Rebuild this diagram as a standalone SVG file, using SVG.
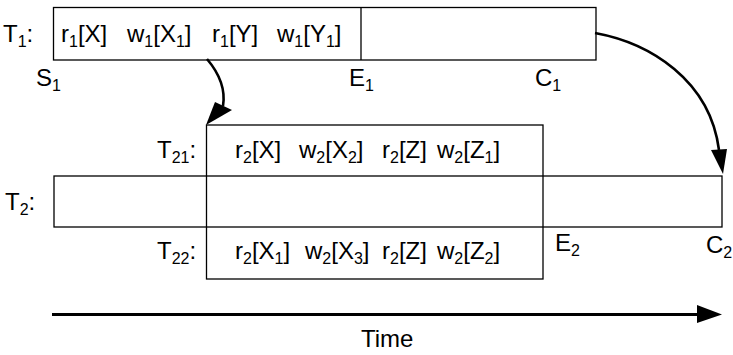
<svg xmlns="http://www.w3.org/2000/svg" width="733" height="355" viewBox="0 0 733 355">
  <style>
    .box { fill: none; stroke: #000; stroke-width: 1.3; }
    .lbl { font-family: "Liberation Sans", Arial, sans-serif; font-size: 24px; fill: #000; }
    .sub { font-size: 16px; }
    .time { font-family: "Liberation Sans", Arial, sans-serif; font-size: 24px; fill: #000; }
    .conn { fill: none; stroke: #000; stroke-width: 2.6; }
    .head { fill: #000; stroke: none; }
  </style>

  <!-- transaction T1 -->
  <g id="T1">
    <rect class="box" x="53.5" y="7.5" width="542.5" height="52.5"/>
    <line class="box" x1="361" y1="7.5" x2="361" y2="60"/>
    <text class="lbl" x="3" y="42">T<tspan class="sub" dy="5">1</tspan><tspan dy="-5">:</tspan></text>
    <text class="lbl" x="61" y="42">r<tspan class="sub" dy="5">1</tspan><tspan dy="-5">[X]</tspan></text>
    <text class="lbl" x="127" y="42">w<tspan class="sub" dy="5">1</tspan><tspan dy="-5">[X</tspan><tspan class="sub" dy="5">1</tspan><tspan dy="-5">]</tspan></text>
    <text class="lbl" x="212" y="42">r<tspan class="sub" dy="5">1</tspan><tspan dy="-5">[Y]</tspan></text>
    <text class="lbl" x="277" y="42">w<tspan class="sub" dy="5">1</tspan><tspan dy="-5">[Y</tspan><tspan class="sub" dy="5">1</tspan><tspan dy="-5">]</tspan></text>
    <text class="lbl" x="36" y="86">S<tspan class="sub" dy="5">1</tspan></text>
    <text class="lbl" x="349" y="86">E<tspan class="sub" dy="5">1</tspan></text>
    <text class="lbl" x="535" y="86">C<tspan class="sub" dy="5">1</tspan></text>
  </g>

  <!-- transaction T2 -->
  <g id="T2">
    <rect class="box" x="54" y="176" width="668" height="51"/>
    <text class="lbl" x="5" y="210">T<tspan class="sub" dy="5">2</tspan><tspan dy="-5">:</tspan></text>
    <text class="lbl" x="555" y="251">E<tspan class="sub" dy="5">2</tspan></text>
    <text class="lbl" x="706" y="253">C<tspan class="sub" dy="5">2</tspan></text>
  </g>

  <!-- subtransactions T21 / T22 -->
  <g id="T21-T22">
    <rect class="box" x="206.5" y="125" width="336.5" height="154"/>
    <text class="lbl" x="157" y="158">T<tspan class="sub" dy="5">21</tspan><tspan dy="-5">:</tspan></text>
    <text class="lbl" x="235" y="158">r<tspan class="sub" dy="5">2</tspan><tspan dy="-5">[X]</tspan></text>
    <text class="lbl" x="299" y="158">w<tspan class="sub" dy="5">2</tspan><tspan dy="-5">[X</tspan><tspan class="sub" dy="5">2</tspan><tspan dy="-5">]</tspan></text>
    <text class="lbl" x="382" y="158">r<tspan class="sub" dy="5">2</tspan><tspan dy="-5">[Z]</tspan></text>
    <text class="lbl" x="437" y="158">w<tspan class="sub" dy="5">2</tspan><tspan dy="-5">[Z</tspan><tspan class="sub" dy="5">1</tspan><tspan dy="-5">]</tspan></text>
    <text class="lbl" x="157" y="259">T<tspan class="sub" dy="5">22</tspan><tspan dy="-5">:</tspan></text>
    <text class="lbl" x="235" y="259">r<tspan class="sub" dy="5">2</tspan><tspan dy="-5">[X</tspan><tspan class="sub" dy="5">1</tspan><tspan dy="-5">]</tspan></text>
    <text class="lbl" x="305" y="259">w<tspan class="sub" dy="5">2</tspan><tspan dy="-5">[X</tspan><tspan class="sub" dy="5">3</tspan><tspan dy="-5">]</tspan></text>
    <text class="lbl" x="382" y="259">r<tspan class="sub" dy="5">2</tspan><tspan dy="-5">[Z]</tspan></text>
    <text class="lbl" x="437" y="259">w<tspan class="sub" dy="5">2</tspan><tspan dy="-5">[Z</tspan><tspan class="sub" dy="5">2</tspan><tspan dy="-5">]</tspan></text>
  </g>

  <!-- connectors -->
  <g id="connectors">
    <path class="conn" d="M207,59 C218,72 226,88 223,106"/>
    <polygon class="head" points="215,102 232,110 206,125"/>
    <path class="conn" d="M595,33 C650,43 710,80 719,150"/>
    <polygon class="head" points="711,150 727,149 723,174"/>
  </g>

  <!-- time axis -->
  <g id="time-axis">
    <line x1="52" y1="314.5" x2="698" y2="314.5" stroke="#000" stroke-width="3"/>
    <polygon class="head" points="697,305 722,314.5 697,323"/>
    <text class="time" x="361" y="347">Time</text>
  </g>
</svg>
